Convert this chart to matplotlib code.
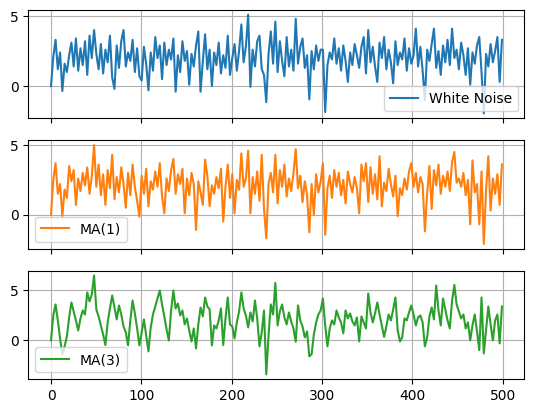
import matplotlib
matplotlib.use("Agg")
import matplotlib.pyplot as plt
import numpy as np

# values, roughly one every 2.5 time steps
white_noise = [
    0.0, 2.1, 3.3, 1.2, 2.4, -0.35, 1.6, 1.0, 2.2, 3.1, 1.4, 3.4, 1.1, 2.7, 1.5, 3.2, 0.8, 3.6, 2.0, 4.0,
    2.3, 1.2, 3.0, 0.9, 2.6, 1.7, 3.6, 0.6, -0.2, 2.9, 1.3, 3.2, 4.0, 1.4, 2.4, 1.8, 3.3, 1.0, 2.7, 0.7,
    0.4, 2.8, 1.6, -0.3, 2.4, 1.1, 3.5, 2.0, 2.9, 0.5, 3.1, 1.5, 2.6, 1.9, 3.4, -0.4, 2.2, 1.0, 3.2, 1.8,
    2.5, 0.1, 2.3, 1.4, 2.9, 3.9, -0.4, 1.8, 3.7, 1.2, 2.6, 0.0, 2.4, 1.5, 3.1, 0.9, 2.2, 1.3, 3.6, 0.8,
    2.0, 3.0, 1.1, 2.5, 4.4, 1.7, 2.8, 5.1, -0.05, 2.6, 1.4, 3.2, 3.6, 1.2, 0.8, -1.15, 2.3, 3.9, 1.6, 4.6,
    1.0, 3.2, 1.8, 0.7, 3.5, 1.4, 2.6, 1.1, 4.8, 1.6, 2.8, 3.4, 1.3, 2.2, -0.95, 2.5, 1.2, 2.9, 1.8, 2.6,
    2.6, -1.85, 1.5, 2.4, 1.9, 3.4, 1.6, 2.7, 1.1, 2.9, 1.8, 0.3, 2.4, 1.5, 3.0, 2.2, 1.3, 2.8, 3.5, 0.9,
    4.0, 1.7, 2.8, 1.4, 0.3, 3.1, 2.0, 3.5, 1.2, 2.6, 1.7, 0.2, 3.2, 1.5, 2.4, 1.9, 3.4, 1.1, 2.7, 1.6,
    2.2, 4.1, 1.4, 2.8, 1.1, -1.0, 2.6, 1.8, 3.0, 4.1, 1.3, 2.5, 0.8, 2.9, 1.7, 3.3, 1.5, 4.1, 2.0, 2.6,
    1.2, 3.1, 2.2, 0.8, 2.7, 0.1, 2.4, 1.6, 2.9, 3.5, 1.0, -1.95, 2.3, 1.4, 3.0, 1.7, 2.5, 3.5, 0.3, 3.3,
]

ma1 = [
    0.0, 2.5, 3.7, 1.5, 2.2, -0.1, 1.8, 1.2, 3.5, 2.4, 3.2, 0.7, 2.6, 1.7, 3.0, 2.1, 3.4, 1.5, 2.8, 5.0,
    2.0, 3.6, 1.4, 2.9, 0.7, 3.2, 1.9, 4.3, 1.1, 2.7, 1.6, 3.4, 2.2, 0.5, 3.0, 1.4, 3.6, 2.0, 1.0, -0.15,
    2.8, 1.5, 3.3, 0.6, 2.4, 1.8, 3.1, 2.0, 3.7, 1.3, 0.1, 2.6, 1.7, 3.2, 4.0, 1.5, 2.9, 2.2, 3.3, 0.1,
    2.6, 1.4, 3.0, 2.2, -1.1, 2.4, 1.6, 0.7, 3.95, 2.8, 0.6, 2.1, 1.5, 2.7, 1.9, 3.3, -0.5, 2.0, 3.6, 1.2,
    2.9, 0.1, 2.5, 1.8, 4.4, 2.0, 2.6, 4.6, 0.1, 2.7, 1.5, 3.1, 1.0, 4.3, 0.4, -1.7, 2.2, 3.0, 1.6, 4.3,
    0.8, 3.2, 2.0, 3.6, 1.3, 2.6, 1.7, 3.0, 4.7, 1.9, 2.8, 0.9, 2.4, 1.4, -1.27, 2.2, 0.0, 2.9, 1.6, 2.4,
    3.7, -1.45, 1.9, 2.8, 1.2, 3.2, 2.0, 3.0, 1.4, 2.5, 0.8, 3.1, 2.2, 1.6, 2.7, 1.9, 0.1, 3.6, 2.4, 3.7,
    0.9, 3.4, 1.5, 2.9, 1.1, 4.2, 0.6, 2.3, 1.7, 3.3, 2.2, 1.3, 2.8, -0.1, 1.9, 1.4, 2.6, 1.8, 3.1, 3.7,
    2.0, 3.0, 1.6, 2.7, 2.2, -1.2, 1.5, 3.5, 0.4, 3.2, 2.1, 3.6, 1.5, 2.8, 2.0, 3.1, 1.7, 3.8, 4.5, 2.3,
    2.6, 2.0, 3.0, 1.4, 2.5, -0.7, 3.9, 1.6, 2.2, -0.7, 3.1, -2.1, 1.8, 4.2, 0.3, 2.6, 1.5, 2.9, 0.7, 3.6,
]

ma3 = [
    0.0, 2.5, 3.6, 2.0, 0.2, -1.4, -0.6, 0.4, 2.3, 3.8, 2.9, 2.0, 1.0, 2.2, 3.0, 2.6, 4.8, 3.9, 4.6, 6.5,
    3.1, 2.4, 1.5, 0.6, -0.47, 1.8, 3.2, 4.5, 3.3, 2.1, 3.5, 2.6, 1.4, 0.8, -0.5, 2.0, 4.0, 2.7, 1.2, -0.5,
    0.8, 2.1, 0.5, -1.1, 1.3, 2.6, 3.4, 4.2, 5.0, 3.6, 2.4, 1.1, 0.0, 3.0, 5.0, 3.2, 3.7, 2.5, 3.0, 1.6,
    2.2, 1.0, -0.1, 1.2, -0.8, 1.6, 3.3, 2.4, 4.3, 3.4, 3.1, -0.5, 1.5, 1.2, 2.0, 3.2, -0.47, 2.2, 4.3, 1.6,
    1.4, 0.2, 1.8, 2.9, 4.8, 3.2, 2.5, 1.3, 2.8, 1.9, 4.0, 2.2, -0.6, 0.8, 3.0, -3.4, 0.5, 3.6, 2.6, 5.76,
    1.5, 2.9, 3.6, 2.3, 1.6, 2.8, 1.9, 1.2, -0.13, 3.5, 2.0, 1.4, 0.3, 0.9, -1.6, -1.4, 0.6, 1.8, 2.6, 3.0,
    4.2, 1.5, -0.6, 1.2, 2.0, 1.6, 3.0, 2.3, 1.8, 0.7, 3.0, 2.2, 2.7, 1.9, 1.5, 2.3, -0.1, 2.4, 1.8, 1.2,
    4.7, 2.8, 1.8, 2.7, 3.8, 2.6, 1.5, 0.35, 1.4, 2.6, 2.0, 3.1, 4.3, 1.0, -0.1, 0.3, 2.2, 2.0, 2.8, 3.5,
    2.6, 1.5, 2.3, 2.5, 1.8, -0.6, 0.3, 2.4, 3.3, 2.1, 5.5, 3.0, 1.5, 4.2, 3.1, 2.0, 1.2, 4.0, 5.56, 3.6,
    2.9, 2.2, 2.6, 1.2, 1.8, 0.0, 1.5, 2.6, 0.9, -0.97, 4.3, -1.3, 1.0, 3.4, 1.6, 0.0, 2.0, 2.6, -0.3, 3.4,
]

series = [white_noise, ma1, ma3]
labels = ["White Noise", "MA(1)", "MA(3)"]
colors = ["tab:blue", "tab:orange", "tab:green"]
legend_locs = ["lower right", "lower left", "lower left"]

t = np.linspace(0, 499, len(white_noise))

fig, axes = plt.subplots(3, 1, sharex=True, figsize=(6.4, 4.8), dpi=100)
for ax, y, lab, c, loc in zip(axes, series, labels, colors, legend_locs):
    ax.plot(t, y, color=c, label=lab)
    ax.grid(True)
    ax.legend(loc=loc)

axes[-1].set_xticks([0, 100, 200, 300, 400, 500])

fig.savefig("out.png", bbox_inches="tight")
